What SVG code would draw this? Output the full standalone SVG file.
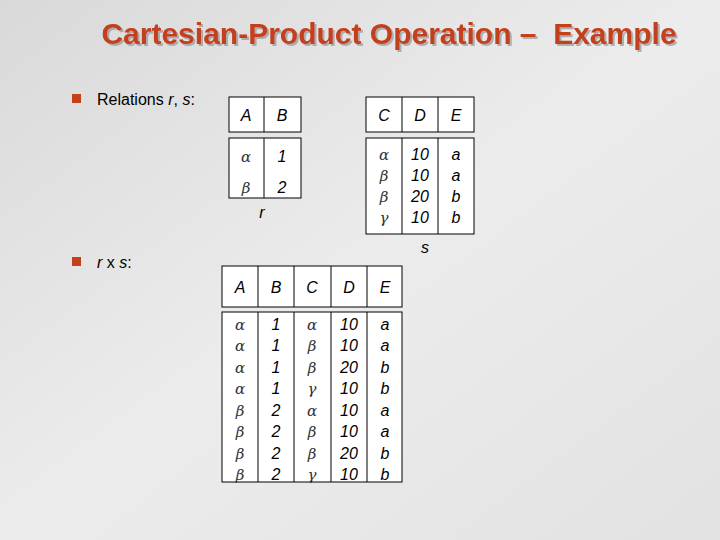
<svg xmlns="http://www.w3.org/2000/svg" width="720" height="540" viewBox="0 0 720 540">
<defs>
<linearGradient id="bg" x1="0" y1="0" x2="1" y2="1"><stop offset="0" stop-color="#d9d9d9"/><stop offset="0.5" stop-color="#ececec"/><stop offset="1" stop-color="#e2e2e2"/></linearGradient>
<filter id="sh" x="-5%" y="-30%" width="110%" height="160%"><feDropShadow dx="2" dy="2" stdDeviation="0.5" flood-color="#888" flood-opacity="0.6"/></filter>
</defs>
<style>
.t{font-family:"Liberation Sans",Arial,sans-serif;font-size:16px;fill:#000}
.i{font-style:italic}
.g{font-family:"DejaVu Serif",serif;font-style:italic;font-size:15px;fill:#333}
.c{text-anchor:middle}
.b{fill:#fff;stroke:#000;stroke-width:1}
.l{stroke:#000;stroke-width:1}
.ttl{font-family:"Liberation Sans",Arial,sans-serif;font-weight:bold;font-size:30px;text-anchor:middle}
</style>
<rect width="720" height="540" fill="url(#bg)"/>
<text class="ttl" x="389" y="44" fill="#c4401c" filter="url(#sh)">Cartesian-Product Operation –&#160; Example</text>
<g id="bullet1"><rect x="72" y="94" width="9" height="9" fill="#c4401c"/>
<text class="t" x="97" y="105">Relations <tspan class="i">r</tspan>, <tspan class="i">s</tspan>:</text></g>
<g id="bullet2"><rect x="72" y="257" width="9" height="9" fill="#c4401c"/>
<text class="t" x="97" y="268"><tspan class="i">r</tspan> x <tspan class="i">s</tspan>:</text></g>
<g id="table-r">
<rect class="b" x="229" y="97" width="72" height="35"/><line class="l" x1="264" y1="97" x2="264" y2="132"/>
<rect class="b" x="229" y="138" width="72" height="60"/><line class="l" x1="264" y1="138" x2="264" y2="198"/>
<text class="t i c" x="246" y="121">A</text><text class="t i c" x="282" y="121">B</text>
<text class="g c" x="246" y="162">α</text><text class="t i c" x="282" y="162">1</text>
<text class="g c" x="246" y="193">β</text><text class="t i c" x="282" y="193">2</text>
<text class="t i c" x="262" y="218">r</text>
</g>
<g id="table-s">
<rect class="b" x="366" y="97" width="108" height="35"/><line class="l" x1="402" y1="97" x2="402" y2="132"/><line class="l" x1="438" y1="97" x2="438" y2="132"/>
<rect class="b" x="366" y="138" width="108" height="96"/><line class="l" x1="402" y1="138" x2="402" y2="234"/><line class="l" x1="438" y1="138" x2="438" y2="234"/>
<text class="t i c" x="384" y="121">C</text><text class="t i c" x="420" y="121">D</text><text class="t i c" x="456" y="121">E</text>
<text class="g c" x="384" y="160">α</text><text class="t i c" x="420" y="160">10</text><text class="t i c" x="456" y="160">a</text>
<text class="g c" x="384" y="181">β</text><text class="t i c" x="420" y="181">10</text><text class="t i c" x="456" y="181">a</text>
<text class="g c" x="384" y="202">β</text><text class="t i c" x="420" y="202">20</text><text class="t i c" x="456" y="202">b</text>
<text class="g c" x="384" y="223">γ</text><text class="t i c" x="420" y="223">10</text><text class="t i c" x="456" y="223">b</text>
<text class="t i c" x="425" y="253">s</text>
</g>
<g id="table-rxs">
<rect class="b" x="222" y="266" width="180" height="41"/>
<rect class="b" x="222" y="312" width="180" height="170"/>
<g class="l"><line x1="258" y1="266" x2="258" y2="307"/><line x1="294" y1="266" x2="294" y2="307"/><line x1="331" y1="266" x2="331" y2="307"/><line x1="367" y1="266" x2="367" y2="307"/>
<line x1="258" y1="312" x2="258" y2="482"/><line x1="294" y1="312" x2="294" y2="482"/><line x1="331" y1="312" x2="331" y2="482"/><line x1="367" y1="312" x2="367" y2="482"/></g>
<text class="t i c" x="240" y="293">A</text><text class="t i c" x="276" y="293">B</text><text class="t i c" x="312" y="293">C</text><text class="t i c" x="349" y="293">D</text><text class="t i c" x="385" y="293">E</text>
<g>
<text class="g c" x="240" y="330">α</text><text class="t i c" x="276" y="330">1</text><text class="g c" x="312" y="330">α</text><text class="t i c" x="349" y="330">10</text><text class="t i c" x="385" y="330">a</text>
<text class="g c" x="240" y="351">α</text><text class="t i c" x="276" y="351">1</text><text class="g c" x="312" y="351">β</text><text class="t i c" x="349" y="351">10</text><text class="t i c" x="385" y="351">a</text>
<text class="g c" x="240" y="373">α</text><text class="t i c" x="276" y="373">1</text><text class="g c" x="312" y="373">β</text><text class="t i c" x="349" y="373">20</text><text class="t i c" x="385" y="373">b</text>
<text class="g c" x="240" y="394">α</text><text class="t i c" x="276" y="394">1</text><text class="g c" x="312" y="394">γ</text><text class="t i c" x="349" y="394">10</text><text class="t i c" x="385" y="394">b</text>
<text class="g c" x="240" y="416">β</text><text class="t i c" x="276" y="416">2</text><text class="g c" x="312" y="416">α</text><text class="t i c" x="349" y="416">10</text><text class="t i c" x="385" y="416">a</text>
<text class="g c" x="240" y="437">β</text><text class="t i c" x="276" y="437">2</text><text class="g c" x="312" y="437">β</text><text class="t i c" x="349" y="437">10</text><text class="t i c" x="385" y="437">a</text>
<text class="g c" x="240" y="459">β</text><text class="t i c" x="276" y="459">2</text><text class="g c" x="312" y="459">β</text><text class="t i c" x="349" y="459">20</text><text class="t i c" x="385" y="459">b</text>
<text class="g c" x="240" y="480">β</text><text class="t i c" x="276" y="480">2</text><text class="g c" x="312" y="480">γ</text><text class="t i c" x="349" y="480">10</text><text class="t i c" x="385" y="480">b</text>
</g>
</g>
</svg>
